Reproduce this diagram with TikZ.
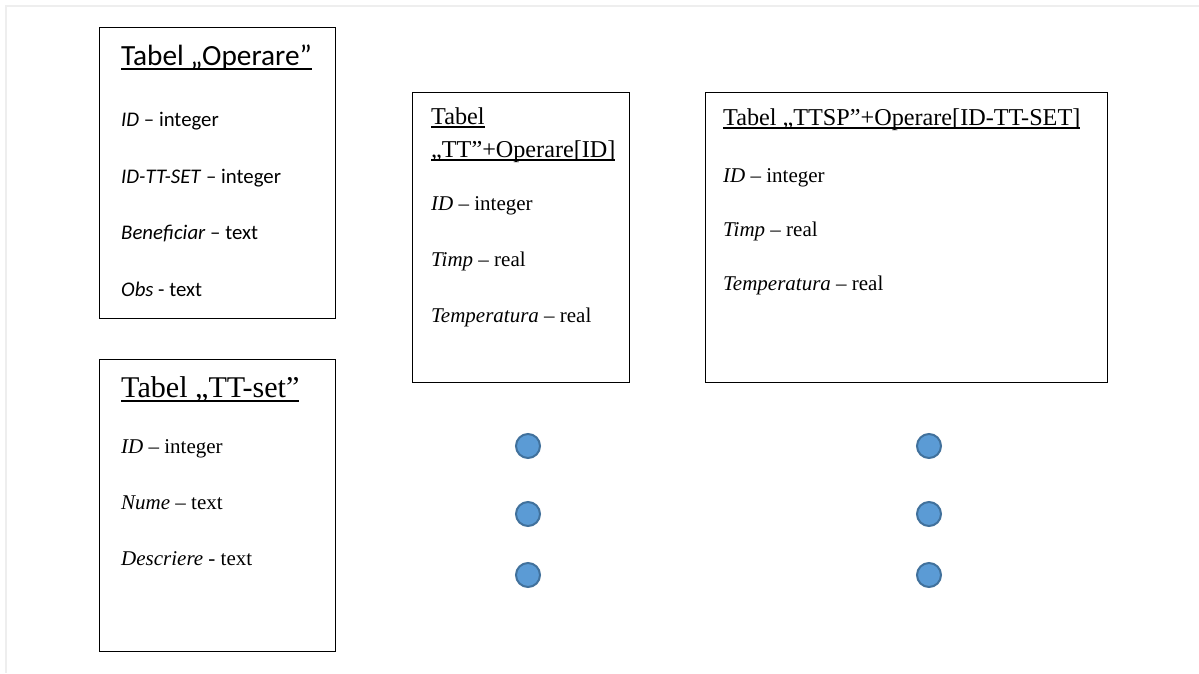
\documentclass[tikz,border=0pt]{standalone}
\usepackage{fontspec}
\setmainfont{Liberation Serif}
\newfontfamily\calib{Carlito}
% underline drawn as a rule, so its depth and weight follow the font size
\newcommand\titleline[1]{\setbox0\hbox{#1}\rlap{\rule[-0.17em]{\wd0}{0.07em}}\box0}
\definecolor{dotfill}{RGB}{91,155,213}
\definecolor{dotedge}{RGB}{65,113,156}
\definecolor{frame}{RGB}{238,238,238}
\tikzset{
  tbl/.style={draw=black, line width=1.1pt, anchor=north west, inner sep=0pt},
  txt/.style={anchor=base west, inner sep=0pt},
  bodyC/.style={txt, font=\calib\fontsize{20.8}{24}\selectfont},
  bodyT/.style={txt, font=\fontsize{21}{24}\selectfont},
  headC/.style={txt, font=\calib\fontsize{29.3}{34}\selectfont},
  headT/.style={txt, font=\fontsize{30.1}{34}\selectfont},
  headS/.style={txt, font=\fontsize{24.2}{28}\selectfont},
  dot/.style={circle, draw=dotedge, fill=dotfill, line width=2pt, minimum size=24pt, inner sep=0pt}
}
\begin{document}
\begin{tikzpicture}[x=1pt, y=-1pt]
\useasboundingbox (0,0) rectangle (1199,673);
\fill[white] (0,0) rectangle (1199,673);
\draw[frame, line width=1.5pt] (6,673) -- (6,6) -- (1199,6);

% table boxes
\node[tbl, minimum width=236pt, minimum height=291pt] (op) at (98.5,27) {};
\node[tbl, minimum width=236pt, minimum height=292pt] (set) at (98.5,358.5) {};
\node[tbl, minimum width=217pt, minimum height=290pt] (tt) at (411.5,92) {};
\node[tbl, minimum width=402pt, minimum height=290pt] (ttsp) at (704.5,92) {};

% Operare
\node[headC] (opH) at (121,65) {\titleline{Tabel „Operare”}};
\node[bodyC] (op1) at (121,126) {\textit{ID} – integer};
\node[bodyC] (op2) at (121,183) {\textit{ID-TT-SET} – integer};
\node[bodyC] (op3) at (121,239) {\textit{Beneficiar} – text};
\node[bodyC] (op4) at (121,296) {\textit{Obs} - text};

% TT-set
\node[headT] (setH) at (121,397) {\titleline{Tabel „TT-set”}};
\node[bodyT] (set1) at (121,453) {\textit{ID} – integer};
\node[bodyT] (set2) at (121,509) {\textit{Nume} – text};
\node[bodyT] (set3) at (121,565) {\textit{Descriere} - text};

% TT
\node[headS] (ttH1) at (431,124) {\titleline{Tabel}};
\node[headS] (ttH2) at (431,157) {\titleline{„TT”+Operare[ID]}};
\node[bodyT] (tt1) at (431,210) {\textit{ID} – integer};
\node[bodyT] (tt2) at (431,266) {\textit{Timp} – real};
\node[bodyT] (tt3) at (431,322) {\textit{Temperatura} – real};

% TTSP
\node[headS] (ttspH) at (723,125) {\titleline{Tabel „TTSP”+Operare[ID-TT-SET]}};
\node[bodyT] (ttsp1) at (723,182) {\textit{ID} – integer};
\node[bodyT] (ttsp2) at (723,236) {\textit{Timp} – real};
\node[bodyT] (ttsp3) at (723,290) {\textit{Temperatura} – real};

% continuation dots
\node[dot] (d1) at (528,446) {};
\node[dot] (d2) at (528,514) {};
\node[dot] (d3) at (528,575) {};
\node[dot] (d4) at (929,446) {};
\node[dot] (d5) at (929,514) {};
\node[dot] (d6) at (929,575) {};
\end{tikzpicture}
\end{document}
